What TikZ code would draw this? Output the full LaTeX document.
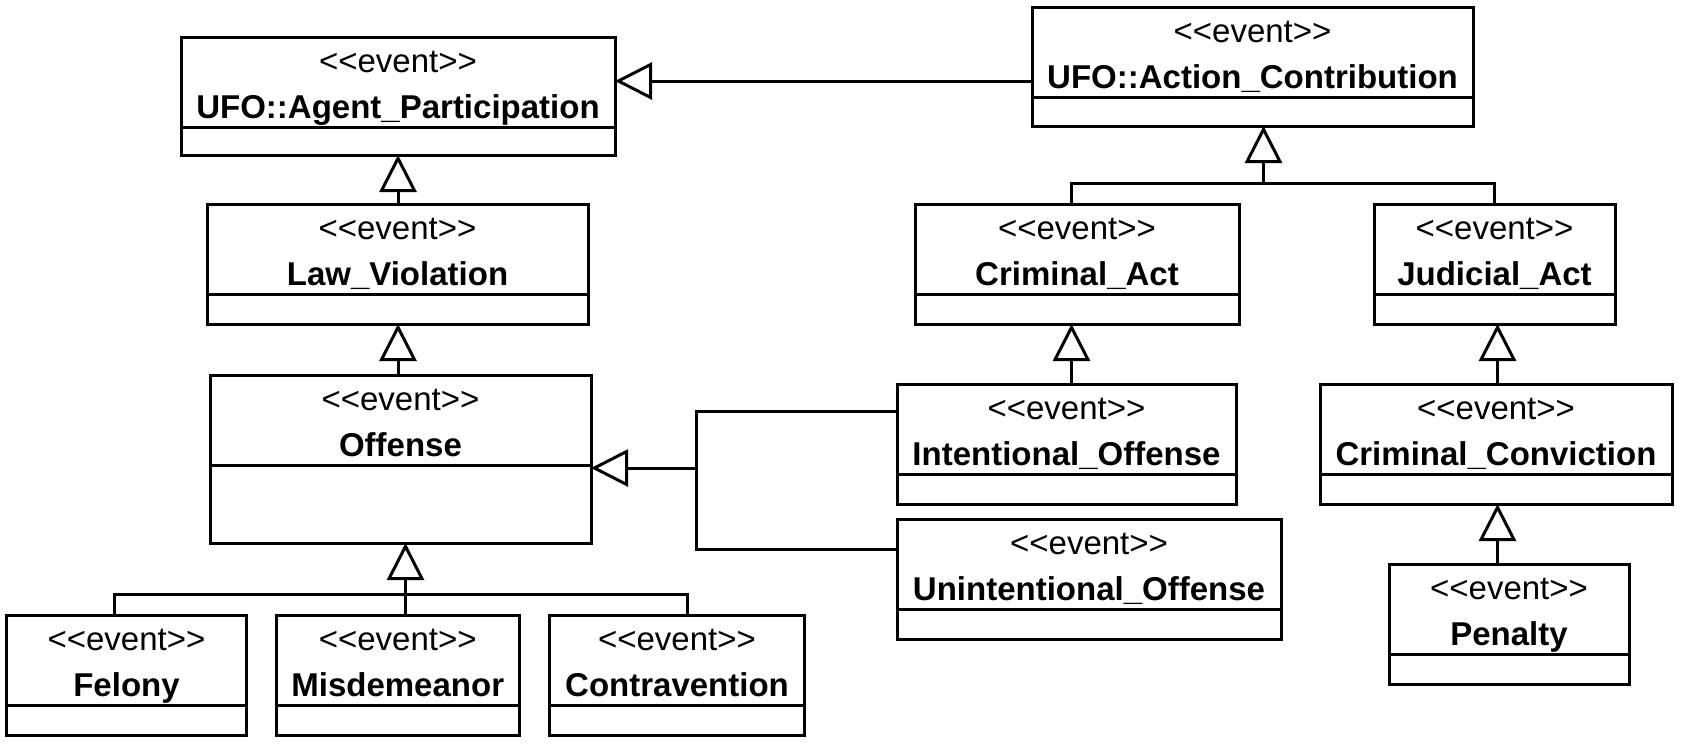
\documentclass[tikz,border=0pt]{standalone}
\usepackage{fontspec}
\setmainfont{Liberation Sans}
\usetikzlibrary{arrows.meta}
\newcommand\umlclass[6]{%
  \node[cls, minimum width=#4pt, minimum height=#5pt] (#1) at (#2,#3) {};
  \draw[conn] ([yshift=-90pt]#1.north west) -- ([yshift=-90pt]#1.north east);
  \node[stereo] (#1-s) at ([yshift=-35pt]#1.north) {<{}<event>{}>};
  \node[cname] (#1-n) at ([yshift=-81pt]#1.north) {#6};
}
\begin{document}
\begin{tikzpicture}[x=1pt,y=-1pt,
  cls/.style={draw, line width=3pt, inner sep=0pt, outer sep=0pt, anchor=north west},
  stereo/.style={anchor=base, font=\fontsize{33}{36}\selectfont, inner sep=0pt},
  cname/.style={anchor=base, font=\fontsize{33}{36}\selectfont\bfseries, inner sep=0pt},
  conn/.style={line width=3pt},
  gen/.style={line width=3pt, -{Triangle[open, length=37pt, width=37pt]}},
]
\useasboundingbox (0,0) rectangle (1683,747);

\umlclass{AP}{181}{37}{434}{118}{UFO::Agent\_Participation}
\umlclass{AC}{1032}{7}{441}{119}{UFO::Action\_Contribution}
\umlclass{LV}{207}{204}{381}{120}{Law\_Violation}
\umlclass{CA}{915}{204}{324}{120}{Criminal\_Act}
\umlclass{JA}{1374}{204}{241}{120}{Judicial\_Act}
\umlclass{OF}{210}{375}{381}{168}{Offense}
\umlclass{IO}{897}{384}{339}{120}{Intentional\_Offense}
\umlclass{UO}{897}{519.5}{384}{120}{Unintentional\_Offense}
\umlclass{CC}{1320}{384}{352}{120}{Criminal\_Conviction}
\umlclass{PE}{1389}{564}{240}{120}{Penalty}
\umlclass{FE}{6.5}{615.5}{240}{120}{Felony}
\umlclass{MI}{276}{615.5}{243.5}{120}{Misdemeanor}
\umlclass{CO}{549.5}{615.5}{255}{120}{Contravention}

% Action_Contribution -> Agent_Participation
\coordinate (y81) at (0,81);
\draw[gen] (AC.west |- y81) -- (AP.east |- y81);

% Law_Violation -> Agent_Participation, Offense -> Law_Violation
\draw[gen] (AP.south |- LV.north) -- (AP.south);
\draw[gen] (AP.south |- OF.north) -- (AP.south |- LV.south);

% Felony, Misdemeanor, Contravention -> Offense
\coordinate (ofb) at (405.5,594);
\coordinate (barL) at (114,594);
\coordinate (barR) at (687.5,594);
\draw[gen] (ofb) -- (ofb |- OF.south);
\draw[conn] (FE.north -| barL) -- (barL) -- (barR) -- (CO.north -| barR);
\draw[conn] (ofb) -- (ofb |- MI.north);

% Criminal_Act, Judicial_Act -> Action_Contribution
\coordinate (acb) at (1263.5,183);
\coordinate (acL) at (1071,183);
\coordinate (acR) at (1494.5,183);
\draw[gen] (acb) -- (acb |- AC.south);
\draw[conn] (CA.north -| acL) -- (acL) -- (acR) -- (JA.north -| acR);

% Intentional, Unintentional -> Offense
\coordinate (ofr) at (696.5,468);
\coordinate (ioY) at (696.5,411.5);
\coordinate (uoY) at (696.5,549);
\draw[gen] (ofr) -- (ofr -| OF.east);
\draw[conn] (IO.west |- ioY) -- (ioY) -- (uoY) -- (UO.west |- uoY);

% Intentional_Offense -> Criminal_Act
\coordinate (cax) at (1071.5,0);
\draw[gen] (IO.north -| cax) -- (CA.south -| cax);

% Criminal_Conviction -> Judicial_Act, Penalty -> Criminal_Conviction
\coordinate (jx) at (1497.5,0);
\draw[gen] (CC.north -| jx) -- (JA.south -| jx);
\draw[gen] (PE.north -| jx) -- (CC.south -| jx);
\end{tikzpicture}
\end{document}
